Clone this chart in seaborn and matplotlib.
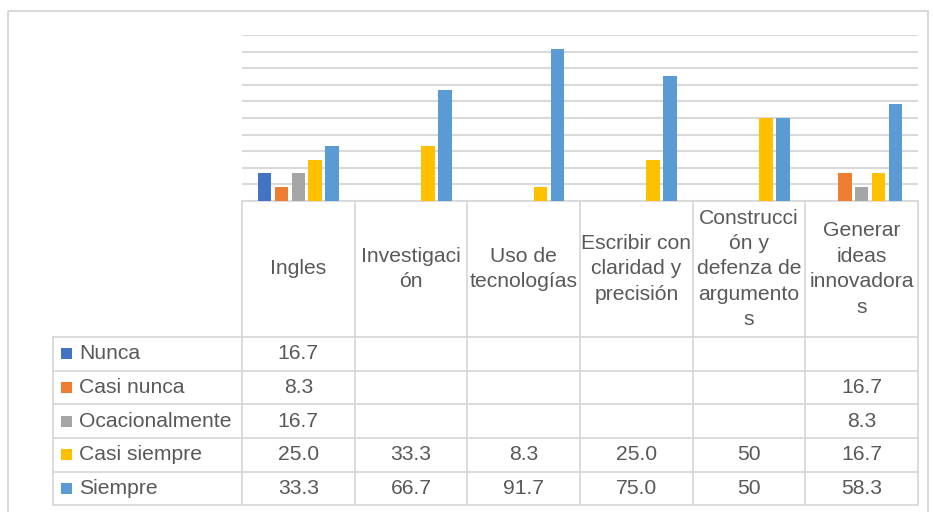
import numpy as np
import pandas as pd
import seaborn as sns
import matplotlib.pyplot as plt
from matplotlib.patches import Rectangle

categorias = ["Ingles", "Investigaci\nón", "Uso de\ntecnologías",
              "Escribir con\nclaridad y\nprecisión",
              "Construcci\nón y\ndefenza de\nargumento\ns",
              "Generar\nideas\ninnovadora\ns"]
series = ["Nunca", "Casi nunca", "Ocacionalmente", "Casi siempre", "Siempre"]
nunca = [16.7, None, None, None, None, None]
casi_nunca = [8.3, None, None, None, None, 16.7]
ocacionalmente = [16.7, None, None, None, None, 8.3]
casi_siempre = [25.0, 33.3, 8.3, 25.0, 50, 16.7]
siempre = [33.3, 66.7, 91.7, 75.0, 50, 58.3]
decimales = [1, 1, 1, 1, 0, 1]
colores = ["#4472C4", "#ED7D31", "#A5A5A5", "#FFC000", "#5B9BD5"]

valores = [nunca, casi_nunca, ocacionalmente, casi_siempre, siempre]
filas = []
for s, vals in zip(series, valores):
    for c, v in zip(categorias, vals):
        if v is not None:
            filas.append({"cat": c, "serie": s, "valor": v})
df = pd.DataFrame(filas)

sns.set_style("white")
plt.rcParams["font.family"] = ["Liberation Sans", "DejaVu Sans"]
gris_txt = "#595959"
gris_lin = "#D9D9D9"
fs = 15.2

W, H = 933, 512
fig = plt.figure(figsize=(W / 100, H / 100), dpi=100)

# overlay in pixel coordinates for the data table
ov = fig.add_axes([0, 0, 1, 1])
ov.set_xlim(0, W)
ov.set_ylim(H, 0)
ov.axis("off")

ax = fig.add_axes([242 / W, (H - 201) / H, 676 / W, 166 / H])
sns.barplot(data=df, x="cat", y="valor", hue="serie", order=categorias,
            hue_order=series, palette=colores, saturation=1, width=0.75, gap=0.2,
            errorbar=None, legend=False, linewidth=0, ax=ax)
ax.set_xlim(-0.5, len(categorias) - 0.5)
ax.set_ylim(0, 100)
ax.set_yticks(np.arange(0, 101, 10))
ax.yaxis.grid(True, color=gris_lin, linewidth=1.5)
ax.set_axisbelow(True)
ax.set_xticks([])
ax.set_yticklabels([])
ax.tick_params(left=False, bottom=False)
ax.set_xlabel("")
ax.set_ylabel("")
for sp in ax.spines.values():
    sp.set_visible(False)
ax.patch.set_alpha(0)

# column edges in pixels from the bar axis
edges = np.arange(len(categorias) + 1) - 0.5
px = ax.transData.transform([(e, 0) for e in edges])[:, 0]
centros = (px[:-1] + px[1:]) / 2

y_eje = 201
y_tabla = 337
alto_fila = (505.3 - y_tabla) / len(series)
x_leyenda = 52.7

lw = 1.3
# axis line / header
ov.plot([px[0], px[-1]], [y_eje, y_eje], color=gris_lin, lw=lw)
for x in px:
    ov.plot([x, x], [y_eje, y_tabla + alto_fila * len(series)], color=gris_lin, lw=lw)
ov.plot([x_leyenda, x_leyenda], [y_tabla, y_tabla + alto_fila * len(series)], color=gris_lin, lw=lw)
for k in range(len(series) + 1):
    y = y_tabla + k * alto_fila
    ov.plot([x_leyenda, px[-1]], [y, y], color=gris_lin, lw=lw)

for c, xc in zip(categorias, centros):
    ov.text(xc, (y_eje + y_tabla) / 2, c, ha="center", va="center",
            multialignment="center", fontsize=fs, color=gris_txt, linespacing=1.43)

for k, (s, vals, col) in enumerate(zip(series, valores, colores)):
    yc = y_tabla + (k + 0.5) * alto_fila
    ov.add_patch(Rectangle((61, yc - 5.5), 11, 11, color=col, lw=0))
    ov.text(79, yc, s, ha="left", va="center", fontsize=fs, color=gris_txt)
    for v, d, xc in zip(vals, decimales, centros):
        if v is not None:
            ov.text(xc, yc, f"{v:.{d}f}", ha="center", va="center",
                    fontsize=fs, color=gris_txt)

# outer chart border
ov.add_patch(Rectangle((8, 11), 920, 520, fill=False, edgecolor=gris_lin,
                       lw=1.5, clip_on=False))

fig.savefig("out.png", dpi=100)
